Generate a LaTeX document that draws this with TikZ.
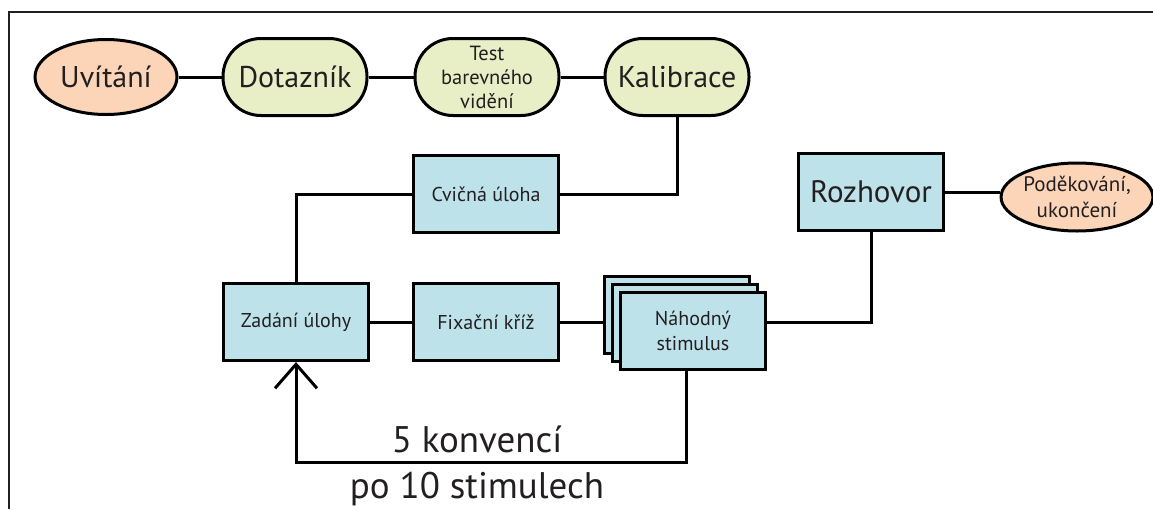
\documentclass[tikz,border=0pt]{standalone}
\usepackage{fontspec}
\setmainfont{PT Sans}
\usetikzlibrary{arrows.meta,shapes.geometric}
\definecolor{peach}{HTML}{FCD5B8}
\definecolor{leaf}{HTML}{E8EFC7}
\definecolor{sky}{HTML}{BEE2EA}
\definecolor{ink}{HTML}{231F20}
\tikzset{
  every node/.style={text=ink, align=center, inner sep=0pt},
  edge/.style={line width=3pt, draw=black},
  oval/.style={ellipse, draw=black, line width=3pt, fill=peach},
  pill/.style={rectangle, rounded corners=38pt, draw=black, line width=3pt, fill=leaf,
               minimum width=144pt, minimum height=77pt},
  stepbox/.style={rectangle, draw=black, line width=3pt, fill=sky,
                  minimum width=145pt, minimum height=77pt},
  big/.style={font=\fontsize{30}{33}\selectfont},
  small/.style={font=\fontsize{20}{25}\selectfont},
  caption/.style={font=\fontsize{37}{40}\selectfont},
}
\begin{document}
\begin{tikzpicture}[x=1pt,y=-1pt]
\useasboundingbox (0,0) rectangle (1153,509);
% frame
\draw[line width=2pt, draw=ink] (1153,12) -- (9,12) -- (9,509);

% top row
\node[oval, big, minimum width=142pt, minimum height=75pt] (uvi) at (106,77) {Uvítání};
\node[pill, big] (dot) at (295,77) {Dotazník};
\node[pill, font=\fontsize{20.5}{24}\selectfont] (tbv) at (487,77) {Test\\barevného\\vidění};
\node[pill, big] (kal) at (677,77) {Kalibrace};

% middle and lower rows
\node[stepbox, small] (cvi) at (486,194) {Cvičná úloha};
\node[stepbox, small] (zad) at (296,322) {Zadání úlohy};
\node[stepbox, small] (fix) at (486,322) {Fixační kříž};
\node[stepbox] (stk3) at (677,315) {};
\node[stepbox] (stk2) at (685,323) {};
\node[stepbox, small] (stk) at (693,331) {Náhodný\\stimulus};
\node[stepbox, font=\fontsize{31}{34}\selectfont] (roz) at (871,192) {Rozhovor};
\node[oval, font=\fontsize{21}{26}\selectfont, minimum width=148pt, minimum height=68pt] (pod) at (1077,197) {Poděkování,\\ukončení};

% connectors
\draw[edge] (uvi) -- (dot);
\draw[edge] (dot) -- (tbv);
\draw[edge] (tbv) -- (kal);
\draw[edge] (kal.south) |- (cvi.east);
\draw[edge] (cvi.west) -| (zad.north);
\draw[edge] (zad) -- (fix);
\draw[edge] (fix.east) -- (fix.east -| stk3.west);
\draw[edge] (stk.east |- fix.east) -| (roz.south);
\draw[edge] (roz.east) -- (roz.east -| pod.west);

% repetition loop
\coordinate (loopR) at (686,462);
\coordinate (loopL) at (296,462);
\draw[edge, -{Straight Barb[length=24pt,width=42pt,line width=3pt]}]
  (loopR |- stk.south) -- (loopR) -- (loopL) -- (zad.south);
\node[caption] (lab1) at (477,439) {5 konvencí};
\node[caption] (lab2) at (477,489) {po 10 stimulech};
\end{tikzpicture}
\end{document}
